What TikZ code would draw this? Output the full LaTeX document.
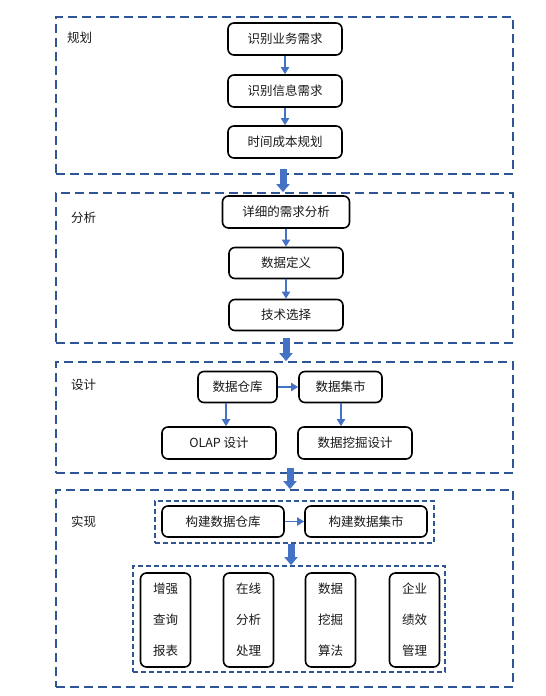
\documentclass[tikz,border=0pt]{standalone}
\usepackage{fontspec}
\setmainfont{Noto Sans CJK SC}
\usetikzlibrary{arrows.meta}
\usetikzlibrary{positioning}
\definecolor{framecol}{HTML}{2F5597}
\definecolor{arrowcol}{HTML}{4472C4}

\begin{document}
\begin{tikzpicture}[x=1pt,y=-1pt,on grid,
    font=\fontsize{12.5}{31}\selectfont,
    stepbox/.style={draw,line width=1.6pt,rounded corners=6pt,minimum width=114pt,minimum height=32pt,inner sep=0pt,text=black!90},
    tallbox/.style={stepbox,minimum width=50pt,minimum height=94pt,align=center},
    stage/.style={draw=framecol,line width=1.8pt,dash pattern=on 9pt off 5pt},
    subgroup/.style={draw=framecol,line width=1.8pt,dash pattern=on 5pt off 3pt},
    tag/.style={anchor=west,inner sep=0pt,text=black!90},
    link/.style={draw=arrowcol,line width=1.8pt,-{Triangle[width=8pt,length=7pt]}},
    bigflow/.style={draw=arrowcol,line width=7pt,-{Triangle[width=13pt,length=8pt]}}]
    \useasboundingbox (0,0) rectangle (546,696);

    % 规划
    \node[stage,minimum width=457pt,minimum height=157pt] (plan) at (284.5,95.5) {};
    \node[tag] (plantxt) at (67,38) {规划};
    \node[stepbox] (r1) at (285,39) {识别业务需求};
    \node[stepbox,below=52pt of r1] (r2) {识别信息需求};
    \node[stepbox,below=51pt of r2] (r3) {时间成本规划};

    % 分析
    \node[stage,minimum width=457pt,minimum height=150pt] (analysis) at (284.5,268) {};
    \node[tag] (antxt) at (71,218) {分析};
    \node[stepbox,minimum width=127pt] (a1) at (286,212) {详细的需求分析};
    \node[stepbox,minimum height=31pt,below=51pt of a1] (a2) {数据定义};
    \node[stepbox,minimum height=31pt,below=52pt of a2] (a3) {技术选择};

    % 设计
    \node[stage,minimum width=457pt,minimum height=111pt] (design) at (284.5,417.5) {};
    \node[tag] (destxt) at (71,385) {设计};
    \node[stepbox,minimum width=79pt,minimum height=31pt] (dw) at (237.5,387) {数据仓库};
    \node[stepbox,minimum width=83pt,minimum height=31pt,right=103pt of dw] (dm) {数据集市};
    \node[stepbox] (olap) at (219,443) {OLAP 设计};
    \node[stepbox,right=136pt of olap] (mine) {数据挖掘设计};

    % 实现
    \node[stage,minimum width=457pt,minimum height=197pt] (build) at (284.5,588.5) {};
    \node[tag] (bdtxt) at (71,522) {实现};
    \node[subgroup,minimum width=279pt,minimum height=42pt] (grpa) at (294.5,522) {};
    \node[stepbox,minimum width=122pt,minimum height=31pt] (bw) at (223,521.5) {构建数据仓库};
    \node[stepbox,minimum width=122pt,minimum height=31pt,right=143pt of bw] (bm) {构建数据集市};
    \node[subgroup,minimum width=312pt,minimum height=106pt] (grpb) at (289,619) {};
    \node[tallbox] (u1) at (165.5,620) {增强\\查询\\报表};
    \node[tallbox,right=83pt of u1] (u2) {在线\\分析\\处理};
    \node[tallbox,right=82pt of u2] (u3) {数据\\挖掘\\算法};
    \node[tallbox,right=84pt of u3] (u4) {企业\\绩效\\管理};

    \draw[link] (r1) -- (r2);
    \draw[link] (r2) -- (r3);
    \draw[link] (a1) -- (a2);
    \draw[link] (a2) -- (a3);
    \draw[link] (dw) -- (dm);
    \draw[link] ([xshift=-11.5pt]dw.south) -- ([xshift=7pt]olap.north);
    \draw[link] ([xshift=0.5pt]dm.south) -- ([xshift=0.5pt]dm.south |- mine.north);
    \draw[link] (bw) -- (bm);

    \draw[bigflow] ([xshift=-1.5pt,yshift=6pt]plan.south) -- ([xshift=-1.5pt]analysis.north);
    \draw[bigflow] ([xshift=1.5pt,yshift=6pt]analysis.south) -- ([xshift=1.5pt]design.north);
    \draw[bigflow] ([xshift=5.5pt,yshift=6pt]design.south) -- ([xshift=5.5pt]build.north);
    \draw[bigflow] ([xshift=-3.5pt]grpa.south) -- ([xshift=2pt]grpb.north);
\end{tikzpicture}
\end{document}
